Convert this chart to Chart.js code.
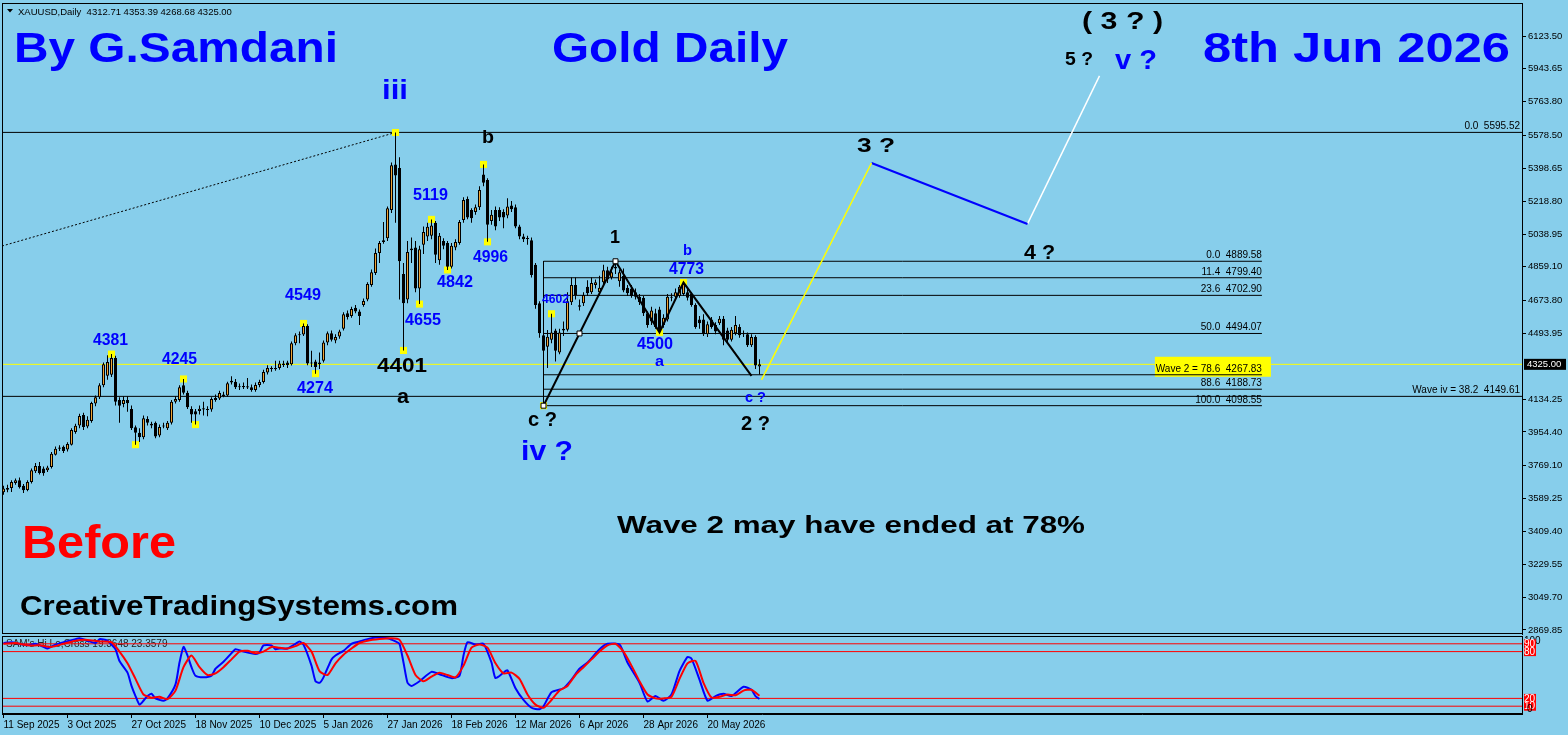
<!DOCTYPE html>
<html>
<head>
<meta charset="utf-8">
<script src="https://cdn.jsdelivr.net/npm/chart.js@4.4.1/dist/chart.umd.min.js"></script>
<style>
html, body { margin: 0; padding: 0; background: #87ceeb; }
#wrap { position: relative; width: 1568px; height: 735px; overflow: hidden; }
#main { position: absolute; left: 0; top: 0; }
#osc { position: absolute; left: 0; top: 635px; }
</style>
</head>
<body>
<div id="wrap">
<canvas id="main" width="1568" height="635"></canvas>
<canvas id="osc" width="1568" height="100"></canvas>
</div>
<script>
// daily candles, 11 Sep 2025 .. 8 Jun 2026 (bar index 0..189)
const opens = [
  3625,3638,3648,3675,3690,3660,3637,3680,3740,3768,
  3755,3745,3762,3830,3862,3873,3858,3885,3955,3990,
  4048,3985,4015,4110,4145,4210,4262,4268,4360,4130,
  4108,4130,4080,3980,3950,3925,4025,4000,4005,3935,
  3985,3975,4005,4120,4130,4210,4170,4080,4068,4070,
  4085,4075,4078,4130,4138,4160,4155,4225,4230,4205,
  4200,4205,4200,4185,4212,4228,4280,4305,4298,4305,
  4330,4335,4325,4440,4485,4488,4535,4330,4340,4325,
  4345,4445,4495,4455,4478,4520,4605,4590,4635,4615,
  4650,4680,4760,4825,4935,4995,5015,5170,5420,5400,
  4820,4680,4950,4965,4740,4980,5025,5030,5100,4895,
  5000,4990,4860,4965,4990,5115,5230,5170,5160,5185,
  5365,5335,5110,5170,5170,5160,5140,5195,5185,5080,
  5025,5015,5005,4870,4660,4485,4422,4460,4510,4390,
  4510,4515,4665,4760,4640,4660,4750,4720,4760,4720,
  4775,4840,4800,4860,4780,4810,4745,4740,4720,4695,
  4690,4605,4560,4605,4625,4540,4570,4690,4695,4700,
  4710,4720,4710,4650,4570,4570,4490,4570,4540,4550,
  4575,4510,4460,4495,4530,4490,4490,4430,4475,4312.71
];
const highs = [
  3660,3665,3690,3700,3705,3670,3690,3755,3785,3790,
  3765,3770,3845,3875,3882,3880,3898,3975,4000,4055,
  4060,4040,4120,4155,4222,4335,4375,4381,4372,4145,
  4150,4150,4100,3990,3975,4045,4040,4010,4012,3995,
  4005,4015,4130,4150,4210,4245,4180,4095,4080,4100,
  4120,4095,4145,4160,4180,4175,4230,4260,4245,4220,
  4225,4250,4215,4225,4240,4295,4320,4315,4345,4345,
  4345,4345,4450,4495,4505,4549,4545,4400,4350,4390,
  4455,4505,4510,4490,4515,4610,4620,4640,4650,4625,
  4685,4775,4845,4960,5000,5105,5190,5430,5595,5460,
  4880,5000,5020,5000,4975,5080,5100,5119,5110,5045,
  5015,5000,4990,5010,5115,5240,5245,5180,5200,5300,
  5420,5345,5170,5190,5185,5175,5235,5220,5200,5090,
  5040,5030,5020,4880,4670,4540,4513,4602,4520,4520,
  4560,4720,4800,4800,4680,4720,4785,4800,4790,4810,
  4870,4860,4860,4889.58,4845,4850,4760,4760,4740,4710,
  4700,4615,4640,4630,4640,4600,4710,4715,4740,4760,
  4773,4740,4720,4660,4590,4600,4560,4585,4555,4590,
  4590,4525,4530,4590,4545,4510,4500,4490,4485,4353.39
];
const lows = [
  3610,3625,3626,3665,3645,3620,3630,3672,3730,3722,
  3715,3735,3755,3825,3850,3840,3848,3880,3945,3975,
  3965,3975,4005,4095,4135,4200,4240,4255,4100,4005,
  4090,4065,3965,3885,3900,3915,3990,3975,3920,3925,
  3975,3965,3995,4110,4120,4160,4080,4005,3995,4050,
  4045,4040,4065,4120,4130,4145,4148,4215,4190,4185,
  4190,4190,4175,4175,4200,4220,4270,4285,4290,4295,
  4310,4305,4318,4430,4440,4480,4320,4310,4274,4300,
  4335,4430,4450,4440,4465,4510,4570,4580,4605,4540,
  4640,4670,4750,4815,4880,4985,5000,5154,5100,4680,
  4401,4660,4880,4720,4655,4930,5000,5010,4880,4870,
  4955,4842,4850,4950,4980,5100,5120,5100,5145,5170,
  5300,4996,5090,5060,5110,5070,5125,5160,5070,5010,
  4995,4980,4800,4630,4470,4098.55,4305,4440,4340,4380,
  4480,4505,4650,4680,4620,4645,4700,4710,4740,4700,
  4760,4770,4790,4820,4750,4720,4700,4690,4680,4650,
  4590,4525,4540,4520,4500,4525,4560,4670,4680,4690,
  4700,4675,4640,4520,4520,4480,4475,4520,4490,4540,
  4430,4445,4450,4485,4470,4475,4420,4420,4300,4268.68
];
const closes = [
  3645,3648,3680,3690,3652,3635,3680,3745,3768,3730,
  3728,3760,3835,3862,3870,3850,3888,3966,3988,4042,
  3982,4022,4113,4145,4210,4325,4338,4360,4120,4098,
  4130,4112,3975,3950,3925,4030,4005,3990,3930,3982,
  3990,4005,4120,4135,4200,4170,4090,4050,4050,4082,
  4078,4080,4135,4140,4168,4152,4222,4235,4200,4200,
  4206,4198,4185,4212,4228,4283,4305,4300,4305,4330,
  4322,4322,4440,4485,4490,4535,4330,4335,4310,4335,
  4445,4495,4460,4475,4505,4600,4585,4628,4615,4590,
  4672,4765,4830,4935,4990,5005,5180,5415,5360,4890,
  4660,4940,4960,4740,4955,5050,5078,5085,4925,5030,
  4975,4860,4975,4995,5105,5225,5130,5125,5185,5280,
  5320,5090,5145,5080,5130,5130,5190,5175,5080,5025,
  5010,5012,4815,4650,4495,4400,4476,4500,4400,4500,
  4520,4670,4760,4705,4648,4705,4715,4770,4775,4745,
  4840,4790,4830,4850,4830,4730,4715,4700,4695,4665,
  4605,4540,4620,4530,4515,4580,4695,4695,4720,4750,
  4765,4690,4650,4530,4550,4490,4545,4530,4505,4575,
  4460,4460,4515,4540,4485,4495,4430,4475,4318,4325
];

const priceTicks = [6123.50, 5943.65, 5763.80, 5578.50, 5398.65, 5218.80, 5038.95, 4859.10,
  4673.80, 4493.95, 4134.25, 3954.40, 3769.10, 3589.25, 3409.40, 3229.55, 3049.70, 2869.85];
const dateIdx = [0, 16, 32, 48, 64, 80, 96, 112, 128, 144, 160, 176];
const dateLabels = ['11 Sep 2025', '3 Oct 2025', '27 Oct 2025', '18 Nov 2025', '10 Dec 2025', '5 Jan 2026',
  '27 Jan 2026', '18 Feb 2026', '12 Mar 2026', '6 Apr 2026', '28 Apr 2026', '20 May 2026'];

// fibonacci retracement of wave 1
const fibLevels = [0.0, 11.4, 23.6, 50.0, 78.6, 88.6, 100.0];
const fibPrices = [4889.58, 4799.40, 4702.90, 4494.07, 4267.83, 4188.73, 4098.55];
const FIB_START = 135, FIB_END = 314.6;

const lastPrice = 4325.00;
const topLine = 5595.52;
const waveIvLine = 4149.61;

// pivot markers [bar, price]
const pivots = [[27,4381],[33,3885],[45,4245],[48,3995],[75,4549],[78,4274],[98,5595],[100,4401],
  [104,4655],[107,5119],[111,4842],[120,5420],[121,4996],[135,4098.55],[137,4602],[164,4500],[170,4773]];

// wave count paths [bar, price]
const wavePath = [[135,4098.55],[144,4494.07],[153,4889.58],[164,4500],[170,4773],[187,4262]];
const wave3Proj = [[189.5,4240],[217,5428]];
const wave4Proj = [[217,5428],[256,5094]];
const wave5Proj = [[256,5094],[274,5905]];
const trendDots = [[-0.375,4973],[98,5595]];

// stochastic %K / %D [bar, value]
const stochK = [[0,91],[2,92],[4,90],[6,88],[8,90],[10,86],[11,84],[13,89],[15,92],[18,96],[19,97],[21,94],
  [23,91],[24,96],[26,94],[27,89],[28,83],[29,68],[31,53],[32,36],[33,23],[34,12],[35,17],[36,23],[37,26],
  [38,20],[40,17],[41,20],[43,38],[44,66],[45,86],[46,75],[47,60],[48,49],[50,47],[52,49],[53,58],[55,67],
  [57,78],[58,83],[60,80],[63,77],[64,79],[65,88],[67,88],[68,83],[69,84],[71,84],[73,90],[74,93],[75,89],
  [77,62],[78,42],[79,40],[80,47],[82,70],[83,75],[85,81],[87,90],[89,93],[91,96],[93,98],[96,97],[98,93],
  [99,90],[100,66],[101,40],[102,36],[104,42],[107,54],[109,51],[112,46],[114,49],[115,75],[116,92],[118,89],
  [120,90],[122,66],[123,46],[125,53],[126,56],[128,33],[130,18],[132,8],[134,6],[135,10],[137,28],[140,33],
  [142,44],[144,58],[146,66],[149,83],[151,90],[154,89],[156,66],[159,40],[161,16],[163,23],[165,17],[167,25],
  [169,55],[171,73],[172,71],[174,44],[176,17],[178,23],[180,26],[182,23],[185,35],[187,31],[188,23],[189,19.36]];
const stochD = [[0,90],[3,91],[6,88],[9,88],[12,86],[15,90],[18,94],[21,95],[24,93],[27,92],[29,80],[31,65],
  [33,45],[35,25],[37,21],[39,22],[41,19],[43,30],[45,60],[47,75],[49,60],[51,50],[53,52],[55,60],[57,70],
  [59,80],[61,81],[63,78],[65,80],[67,86],[69,85],[71,84],[73,87],[75,91],[77,80],[79,55],[81,50],[83,65],
  [85,76],[87,84],[89,91],[91,94],[94,96],[97,97],[99,95],[101,75],[103,50],[105,42],[107,48],[109,53],
  [111,50],[113,47],[115,62],[117,85],[119,89],[121,85],[123,65],[125,52],[127,53],[129,45],[131,25],[133,12],
  [135,8],[137,18],[139,30],[141,36],[143,50],[145,60],[147,70],[149,80],[151,88],[153,90],[155,80],[157,62],
  [159,42],[161,25],[163,20],[165,20],[167,22],[169,45],[171,65],[173,68],[175,40],[177,21],[179,22],[181,25],
  [183,24],[185,30],[187,31],[189,23.36]];
const stochLevels = [90, 80, 20, 10];

const X_MIN = -0.375, X_MAX = 379.625;
const PRICE_MIN = 2847.9, PRICE_MAX = 6304.3;
const BLUE = '#0000ff', RED = '#ff0000', ORANGE = '#eea336';
const FONT = '"Liberation Sans", Arial, sans-serif';

// text annotations: text, left x, baseline y, width, size, colour
const notes = [
  ['By G.Samdani', 14, 62, 324, 43, BLUE],
  ['Gold Daily', 552, 62, 236, 43, BLUE],
  ['8th Jun 2026', 1203, 62, 307, 43, BLUE],
  ['Before', 22, 558, 154, 46, RED],
  ['CreativeTradingSystems.com', 20, 615, 438, 28, '#000'],
  ['Wave 2 may have ended at 78%', 617, 533, 468, 24, '#000'],
  ['iii', 382, 99, 26, 28, BLUE],
  ['b', 482, 143, 12, 19, '#000'],
  ['1', 610, 243, 10, 19, '#000'],
  ['3 ?', 857, 152, 38, 20, '#000'],
  ['( 3 ? )', 1082, 29, 81, 23, '#000'],
  ['5 ?', 1065, 65, 28, 18, '#000'],
  ['v ?', 1115, 69, 42, 27, BLUE],
  ['4 ?', 1024, 259, 31, 20, '#000'],
  ['4401', 377, 372, 50, 21, '#000'],
  ['a', 397, 403, 12, 20, '#000'],
  ['c ?', 528, 426, 29, 20, '#000'],
  ['iv ?', 521, 460, 52, 28, BLUE],
  ['2 ?', 741, 430, 29, 20, '#000'],
  ['c ?', 745, 402, 21, 14, BLUE],
  ['a', 655, 366, 9, 14, BLUE],
  ['b', 683, 255, 9, 14, BLUE],
  ['4381', 93, 345, 35, 16, BLUE],
  ['4245', 162, 364, 35, 16, BLUE],
  ['4549', 285, 300, 36, 16, BLUE],
  ['4274', 297, 393, 36, 16, BLUE],
  ['4655', 405, 325, 36, 16, BLUE],
  ['5119', 413, 200, 35, 16, BLUE],
  ['4842', 437, 287, 36, 16, BLUE],
  ['4996', 473, 262, 35, 16, BLUE],
  ['4773', 669, 274, 35, 16, BLUE],
  ['4500', 637, 349, 36, 16, BLUE],
  ['4602', 542, 303, 27, 12, BLUE]
];

function pts(list) { return list.map(p => ({ x: p[0], y: p[1] })); }
function seg(list, color, width, extra) {
  return Object.assign({ type: 'line', data: pts(list), borderColor: color, borderWidth: width,
    pointRadius: 0, fill: false, tension: 0, order: 4 }, extra || {});
}
function hline(price, color, from, to) {
  return seg([[from, price], [to, price]], color, 1);
}
function noPad(ax) {
  ax.paddingLeft = 0; ax.paddingRight = 0; ax.paddingTop = 0; ax.paddingBottom = 0;
}
function drawFit(ctx, n) {
  const [text, x, y, w, size, color] = n;
  ctx.save();
  ctx.font = 'bold ' + size + 'px ' + FONT;
  ctx.fillStyle = color;
  ctx.textAlign = 'left';
  ctx.textBaseline = 'alphabetic';
  const m = ctx.measureText(text).width;
  ctx.translate(x, y);
  ctx.scale(w / m, 1);
  ctx.fillText(text, 0, 0);
  ctx.restore();
}

const idx = opens.map((o, i) => i);
const wickData = idx.map(i => ({ x: i, y: [lows[i], highs[i]] }));
const bodyData = idx.map(i => ({ x: i, y: [opens[i], closes[i]] }));
const bodyColors = idx.map(i => closes[i] >= opens[i] ? ORANGE : '#000');

const mainDatasets = [
  { type: 'bar', data: bodyData, backgroundColor: bodyColors, borderColor: '#000', borderWidth: 1,
    borderSkipped: false, barThickness: 3, grouped: false, minBarLength: 1, inflateAmount: 0, order: 1 },
  { type: 'bar', data: wickData, backgroundColor: '#000', borderWidth: 0, barThickness: 1,
    grouped: false, inflateAmount: 0, order: 2 },
  { type: 'line', data: pts(pivots), showLine: false, pointStyle: 'rect', pointRadius: 5,
    pointBackgroundColor: '#ffff00', pointBorderWidth: 0, order: 3 },
  seg(wavePath, '#000', 2, { order: 0, pointStyle: 'rect', pointRadius: [3.5, 3.5, 3.5, 0, 0, 0],
    pointBackgroundColor: '#fff', pointBorderColor: '#000', pointBorderWidth: 1 }),
  seg(wave3Proj, '#ffff00', 1.5, { order: 0 }),
  seg(wave4Proj, '#0000ff', 2, { order: 0 }),
  seg(wave5Proj, '#ffffff', 1.5, { order: 0 }),
  seg(trendDots, '#000', 1, { borderDash: [2, 2] }),
  hline(topLine, '#000', X_MIN, X_MAX),
  hline(waveIvLine, '#000', X_MIN, X_MAX),
  hline(lastPrice, '#ffff00', X_MIN, X_MAX),
  seg([[FIB_START, fibPrices[0]], [FIB_START, fibPrices[fibPrices.length - 1]]], '#000', 1)
];
fibPrices.forEach(p => mainDatasets.push(hline(p, '#000', FIB_START, FIB_END)));

const mainDecor = {
  id: 'mainDecor',
  beforeDatasetsDraw(chart) {
    const { ctx, scales: { x, y } } = chart;
    const fx = x.getPixelForValue(FIB_END);
    const py = y.getPixelForValue(fibPrices[4]);
    ctx.save();
    ctx.fillStyle = '#ffff00';
    ctx.fillRect(fx - 107, py - 18, 116, 20);
    ctx.restore();
  },
  afterDatasetsDraw(chart) {
    const { ctx, chartArea: ca, scales: { x, y } } = chart;
    ctx.save();
    ctx.strokeStyle = '#000';
    ctx.lineWidth = 1;
    ctx.strokeRect(ca.left + 0.5, ca.top + 0.5, ca.right - ca.left, ca.bottom - ca.top - 1);

    ctx.font = '10px ' + FONT;
    ctx.textAlign = 'right';
    ctx.textBaseline = 'alphabetic';
    ctx.fillStyle = '#000';
    const fx = x.getPixelForValue(FIB_END);
    fibLevels.forEach((lv, k) => {
      const py = y.getPixelForValue(fibPrices[k]);
      let txt = lv.toFixed(1) + '  ' + fibPrices[k].toFixed(2);
      if (k === 4) txt = 'Wave 2 = ' + txt;
      ctx.fillText(txt, fx, py - 3);
    });
    ctx.fillText('0.0  ' + topLine.toFixed(2), ca.right - 2, y.getPixelForValue(topLine) - 3);
    ctx.fillText('Wave iv = 38.2  ' + waveIvLine.toFixed(2), ca.right - 2, y.getPixelForValue(waveIvLine) - 3);

    ctx.textAlign = 'left';
    ctx.font = '9.5px ' + FONT;
    ctx.fillText('XAUUSD,Daily  ' + [opens[189], highs[189], lows[189], closes[189]].map(v => v.toFixed(2)).join(' '), 18, 15);
    ctx.beginPath();
    ctx.moveTo(7, 9); ctx.lineTo(13, 9); ctx.lineTo(10, 12.5); ctx.closePath();
    ctx.fill();

    notes.forEach(n => drawFit(ctx, n));
    ctx.restore();
  },
  afterDraw(chart) {
    const { ctx, chartArea: ca, scales: { y } } = chart;
    const py = y.getPixelForValue(lastPrice);
    ctx.save();
    ctx.fillStyle = '#000';
    ctx.fillRect(ca.right + 2, py - 5.5, 42, 11);
    ctx.fillStyle = '#fff';
    ctx.font = '9.5px ' + FONT;
    ctx.textBaseline = 'middle';
    ctx.fillText(lastPrice.toFixed(2), ca.right + 5, py);
    ctx.restore();
  }
};

new Chart(document.getElementById('main'), {
  type: 'bar',
  data: { datasets: mainDatasets },
  options: {
    responsive: false,
    animation: false,
    events: [],
    layout: { autoPadding: false, padding: { left: 2, top: 3, right: 0, bottom: 1 } },
    plugins: { legend: { display: false }, tooltip: { enabled: false } },
    scales: {
      x: { type: 'linear', min: X_MIN, max: X_MAX, offset: false, display: false, afterFit: noPad },
      y: {
        type: 'linear', position: 'right', min: PRICE_MIN, max: PRICE_MAX,
        afterBuildTicks: ax => { ax.ticks = priceTicks.map(v => ({ value: v })); },
        afterFit: ax => { ax.width = 46; noPad(ax); },
        ticks: { autoSkip: false, padding: 2, color: '#000', font: { family: FONT, size: 9.5 },
          callback: v => Number(v).toFixed(2) },
        grid: { drawOnChartArea: false, drawTicks: true, tickLength: 4, color: '#000' },
        border: { display: true, color: '#000', width: 1 }
      }
    }
  },
  plugins: [mainDecor]
});

// stochastic panel
const oscDatasets = [
  seg(stochD, '#ff0000', 2, { order: 0, tension: 0.2 }),
  seg(stochK, '#0000ff', 2, { order: 1, tension: 0.2 })
];
stochLevels.forEach(v => oscDatasets.push(Object.assign(hline(v, '#ff0000', X_MIN, X_MAX), { order: 2 })));

const oscDecor = {
  id: 'oscDecor',
  beforeDatasetsDraw(chart) {
    const { ctx } = chart;
    ctx.save();
    ctx.font = '10px ' + FONT;
    ctx.fillStyle = '#222';
    ctx.fillText("SAM's Hi,Lo,Cross 19.3648 23.3579", 6, 12);
    ctx.restore();
  },
  afterDraw(chart) {
    const { ctx, chartArea: ca, scales: { y } } = chart;
    ctx.save();
    ctx.strokeStyle = '#000';
    ctx.lineWidth = 1;
    ctx.strokeRect(ca.left + 0.5, ca.top + 0.5, ca.right - ca.left, ca.bottom - ca.top - 1);
    ctx.font = '10px ' + FONT;
    ctx.textBaseline = 'middle';
    ctx.fillStyle = '#000';
    ctx.fillText('100', ca.right + 2, y.getPixelForValue(100) + 5);
    stochLevels.forEach(v => {
      const py = y.getPixelForValue(v);
      ctx.fillStyle = '#ff0000';
      ctx.fillRect(ca.right + 2, py - 4.5, 12, 9);
      ctx.fillStyle = '#fff';
      ctx.fillText(String(v), ca.right + 2, py + 0.5);
    });
    ctx.fillStyle = '#000';
    ctx.fillText('0', ca.right + 5, y.getPixelForValue(0) - 5);
    ctx.restore();
  }
};

new Chart(document.getElementById('osc'), {
  type: 'line',
  data: { datasets: oscDatasets },
  options: {
    responsive: false,
    animation: false,
    events: [],
    layout: { autoPadding: false, padding: { left: 2, top: 1, right: 0, bottom: 0 } },
    plugins: { legend: { display: false }, tooltip: { enabled: false } },
    scales: {
      x: {
        type: 'linear', min: X_MIN, max: X_MAX, offset: false,
        afterBuildTicks: ax => { ax.ticks = dateIdx.map(v => ({ value: v })); },
        afterFit: ax => { ax.height = 21; noPad(ax); },
        ticks: { autoSkip: false, maxRotation: 0, align: 'start', padding: 1, color: '#000',
          font: { family: FONT, size: 10 }, callback: (v, i) => dateLabels[i] },
        grid: { drawOnChartArea: false, drawTicks: true, tickLength: 4, color: '#000' },
        border: { display: true, color: '#000', width: 1 }
      },
      y: {
        type: 'linear', position: 'right', min: 0, max: 100,
        afterFit: ax => { ax.width = 46; noPad(ax); },
        ticks: { display: false },
        grid: { display: false },
        border: { display: true, color: '#000', width: 1 }
      }
    }
  },
  plugins: [oscDecor]
});
</script>
</body>
</html>
